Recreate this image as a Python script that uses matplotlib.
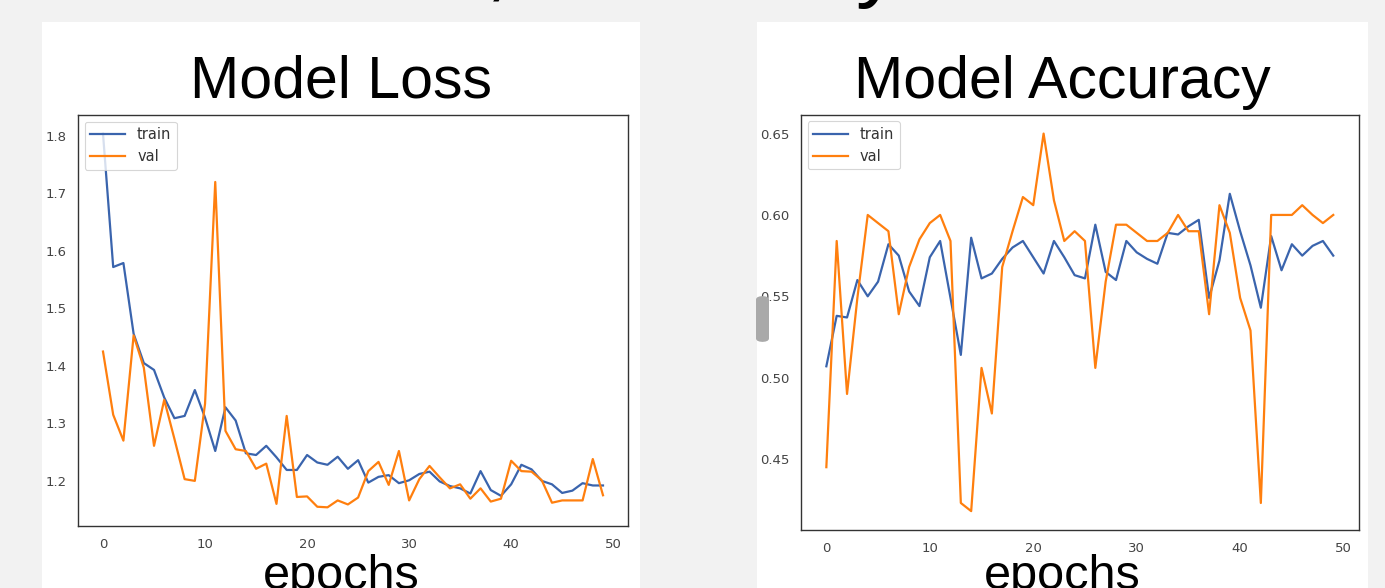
import matplotlib
matplotlib.use("Agg")
import matplotlib.pyplot as plt
from matplotlib.patches import Rectangle, FancyBboxPatch
import numpy as np

# ---------------- data ----------------
epochs = list(range(50))

loss_train = [1.804, 1.572, 1.579, 1.456, 1.405, 1.393, 1.345, 1.309, 1.313, 1.358,
              1.310, 1.252, 1.328, 1.305, 1.248, 1.245, 1.261, 1.241, 1.219, 1.219,
              1.245, 1.232, 1.228, 1.242, 1.221, 1.236, 1.197, 1.207, 1.210, 1.196,
              1.201, 1.212, 1.216, 1.199, 1.191, 1.187, 1.178, 1.217, 1.184, 1.174,
              1.194, 1.228, 1.220, 1.200, 1.194, 1.179, 1.183, 1.196, 1.192, 1.192]

loss_val = [1.425, 1.315, 1.270, 1.453, 1.397, 1.261, 1.341, 1.273, 1.203, 1.200,
            1.334, 1.720, 1.287, 1.255, 1.252, 1.221, 1.230, 1.160, 1.313, 1.172,
            1.173, 1.155, 1.154, 1.166, 1.159, 1.171, 1.217, 1.233, 1.193, 1.252,
            1.166, 1.203, 1.226, 1.206, 1.187, 1.194, 1.169, 1.187, 1.164, 1.169,
            1.235, 1.217, 1.216, 1.201, 1.162, 1.166, 1.166, 1.166, 1.238, 1.175]

acc_train = [0.507, 0.538, 0.537, 0.560, 0.550, 0.559, 0.582, 0.575, 0.553, 0.544,
             0.574, 0.584, 0.549, 0.514, 0.586, 0.561, 0.564, 0.573, 0.580, 0.584,
             0.574, 0.564, 0.584, 0.574, 0.563, 0.561, 0.594, 0.565, 0.560, 0.584,
             0.577, 0.573, 0.570, 0.589, 0.588, 0.593, 0.597, 0.549, 0.572, 0.613,
             0.590, 0.569, 0.543, 0.587, 0.566, 0.582, 0.575, 0.581, 0.584, 0.575]

acc_val = [0.445, 0.584, 0.490, 0.549, 0.600, 0.595, 0.590, 0.539, 0.568, 0.585,
           0.595, 0.600, 0.584, 0.423, 0.418, 0.506, 0.478, 0.568, 0.590, 0.611,
           0.606, 0.650, 0.609, 0.584, 0.590, 0.584, 0.506, 0.559, 0.594, 0.594,
           0.589, 0.584, 0.584, 0.589, 0.600, 0.590, 0.590, 0.539, 0.606, 0.589,
           0.549, 0.529, 0.423, 0.600, 0.600, 0.600, 0.606, 0.600, 0.595, 0.600]

legend_labels = ["train", "val"]
panel_titles = ["Model Loss", "Model Accuracy"]
xlabel_text = "epochs"
heading_fragment = ", Accuracy"

# ---------------- style ----------------
W, H = 1385, 588
DPI = 100
BLUE = "#3a64ad"
ORANGE = "#ff7f0e"
BG = "#f2f2f2"

fig = plt.figure(figsize=(W / DPI, H / DPI), dpi=DPI, facecolor=BG)

def fx(px):
    return px / W

def fy(py):
    return 1 - py / H

# white slide panels
for x0, x1 in [(42, 640), (757, 1368)]:
    fig.patches.append(Rectangle((fx(x0), fy(588)), fx(x1 - x0), (588 - 22) / H,
                                 transform=fig.transFigure, facecolor="white",
                                 edgecolor="none", zorder=-10))

# partial heading cut at top of slide
fig.text(fx(485), 1 + 10 / H, heading_fragment, fontsize=64.8,
         family="Liberation Sans", ha="left", va="baseline", color="black")

def style_axes(ax):
    ax.set_facecolor("white")
    for s in ax.spines.values():
        s.set_color("#333333")
        s.set_linewidth(1.0)
    ax.tick_params(axis="both", length=0, pad=8.5, labelsize=9.5,
                   labelcolor="#444444")
    for lab in ax.get_xticklabels() + ax.get_yticklabels():
        lab.set_family("DejaVu Sans")

# left axes: loss
ax1 = fig.add_axes([fx(78), fy(526), fx(628 - 78), (526 - 115) / H])
ax1.plot(epochs, loss_train, color=BLUE, lw=1.6, label=legend_labels[0])
ax1.plot(epochs, loss_val, color=ORANGE, lw=1.6, label=legend_labels[1])
ax1.set_xticks([0, 10, 20, 30, 40, 50])
ax1.set_yticks([1.2, 1.3, 1.4, 1.5, 1.6, 1.7, 1.8])
style_axes(ax1)

# right axes: accuracy
ax2 = fig.add_axes([fx(801), fy(530), fx(1358.6 - 801), (530 - 114.7) / H])
ax2.plot(epochs, acc_train, color=BLUE, lw=1.6, label=legend_labels[0])
ax2.plot(epochs, acc_val, color=ORANGE, lw=1.6, label=legend_labels[1])
ax2.set_xticks([0, 10, 20, 30, 40, 50])
ax2.set_yticks([0.45, 0.50, 0.55, 0.60, 0.65])
ax2.set_yticklabels(["0.45", "0.50", "0.55", "0.60", "0.65"])
style_axes(ax2)

for ax in (ax1, ax2):
    leg = ax.legend(loc="upper left", fontsize=10.5, frameon=True, fancybox=True,
                    framealpha=0.8, borderaxespad=0.45, handlelength=2.4,
                    labelspacing=0.45)
    leg.get_frame().set_edgecolor("#cccccc")
    leg.get_frame().set_linewidth(0.8)
    for t in leg.get_texts():
        t.set_color("#333333")

# panel titles and x labels (slide text)
fig.text(fx(341), fy(98), panel_titles[0], fontsize=42.5, family="Liberation Sans",
         ha="center", va="baseline", color="black")
fig.text(fx(1062), fy(98), panel_titles[1], fontsize=42.5, family="Liberation Sans",
         ha="center", va="baseline", color="black")
fig.text(fx(341), fy(589), xlabel_text, fontsize=35, family="Liberation Sans",
         ha="center", va="baseline", color="black")
fig.text(fx(1062), fy(589), xlabel_text, fontsize=35, family="Liberation Sans",
         ha="center", va="baseline", color="black")

# grey scrollbar thumb on the right panel edge
fig.patches.append(FancyBboxPatch((fx(756), fy(342)), fx(13), (342 - 296) / H,
                                  boxstyle="round,pad=0,rounding_size=0.006",
                                  transform=fig.transFigure, facecolor="#a9a9a9",
                                  edgecolor="none", zorder=5))

fig.savefig("out.png", dpi=DPI, facecolor=BG)
